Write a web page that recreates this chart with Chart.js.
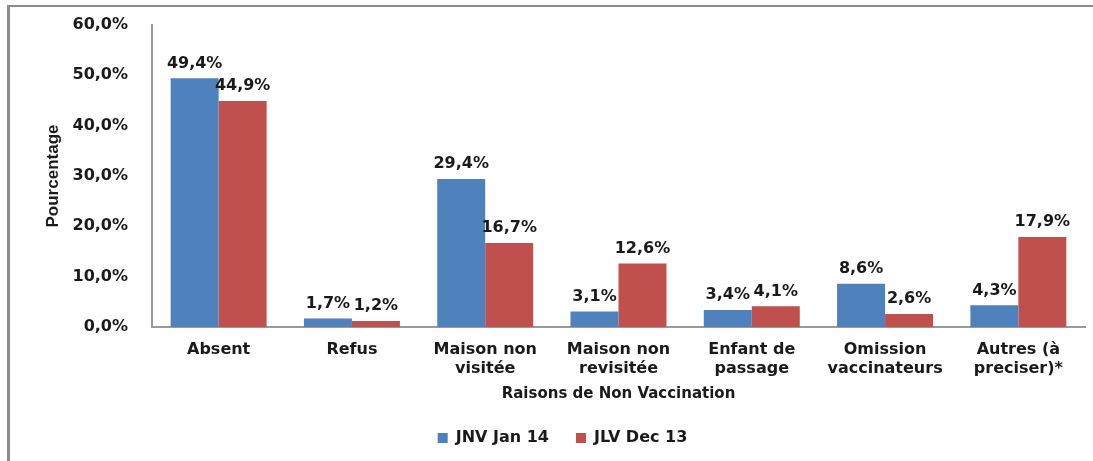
<!DOCTYPE html>
<html lang="fr">
<head>
<meta charset="UTF-8">
<title>Raisons de Non Vaccination</title>
<style>
body { margin: 0; background: #fff; }
#wrap { position: relative; width: 1093px; height: 461px; overflow: hidden; }
#frame {
  position: absolute; left: 7px; top: 5px; width: 1200px; height: 600px;
  border-top: 2px solid #8a8a8a; border-left: 3px solid #8a8a8a;
}
canvas { position: absolute; left: 0; top: 0; }
</style>
</head>
<body>
<div id="wrap">
  <div id="frame"></div>
  <canvas id="myChart" width="1093" height="461"></canvas>
</div>

<script src="https://cdn.jsdelivr.net/npm/chart.js"></script>
<script>
// donnees
const categories = [
  ['Absent'], ['Refus'], ['Maison non', 'visitée'], ['Maison non', 'revisitée'],
  ['Enfant de', 'passage'], ['Omission', 'vaccinateurs'], ['Autres (à', 'preciser)*']
];
const jnvJan14 = [49.4, 1.7, 29.4, 3.1, 3.4, 8.6, 4.3];
const jlvDec13 = [44.9, 1.2, 16.7, 12.6, 4.1, 2.6, 17.9];
const yTicks = [0, 10, 20, 30, 40, 50, 60];

const FONT = '"DejaVu Sans", Verdana, sans-serif';

function f_pct(v, dec) {
  return v.toFixed(dec).replace('.', ',') + '%';
}

// etiquettes de valeur au dessus des barres
const valueLabels = {
  id: 'valueLabels',
  afterDatasetsDraw(chart) {
    const c = chart.ctx;
    c.save();
    c.font = 'bold 16px ' + FONT;
    c.fillStyle = '#1a1a1a';
    c.textAlign = 'center';
    c.textBaseline = 'bottom';
    chart.data.datasets.forEach((ds, i) => {
      chart.getDatasetMeta(i).data.forEach((bar, j) => {
        c.fillText(f_pct(ds.data[j], 1), bar.x, bar.y - 7);
      });
    });
    c.restore();
  }
};

const ctx = document.getElementById('myChart');

let chart = new Chart(ctx, {
  type: 'bar',
  data: {
    labels: categories,
    datasets: [{
      label: 'JNV Jan 14',
      data: jnvJan14,
      backgroundColor: '#4F81BD',
      borderWidth: 0
    },
    {
      label: 'JLV Dec 13',
      data: jlvDec13,
      backgroundColor: '#C0504D',
      borderWidth: 0
    }]
  },
  plugins: [valueLabels],
  options: {
    responsive: false,
    animation: false,
    layout: { padding: { left: 40, right: 8, top: 25, bottom: 8 } },
    datasets: { bar: { categoryPercentage: 0.72, barPercentage: 1.0 } },
    plugins: {
      tooltip: { enabled: false },
      legend: {
        position: 'bottom',
        maxHeight: 50,
        labels: {
          boxWidth: 10, boxHeight: 10, padding: 27,
          color: '#1a1a1a',
          font: { family: FONT, size: 16, weight: 'bold' }
        }
      }
    },
    scales: {
      x: {
        afterFit(scale) { scale.height = 76; },
        grid: { display: false, drawTicks: false },
        border: { display: true, color: '#9a9a9a', width: 2 },
        ticks: {
          color: '#1a1a1a', padding: 14, maxRotation: 0,
          font: { family: FONT, size: 16, weight: 'bold', lineHeight: 1.15 }
        },
        title: {
          display: true,
          text: 'Raisons de Non Vaccination',
          color: '#1a1a1a',
          padding: { top: 0, bottom: 0 },
          font: { family: FONT, size: 15, weight: 'bold' }
        }
      },
      y: {
        min: 0, max: 60,
        afterFit(scale) { scale.width = 112; },
        afterBuildTicks(scale) { scale.ticks = yTicks.map(v => ({ value: v })); },
        grid: { display: false, drawTicks: true, tickLength: 21 },
        border: { display: true, color: '#9a9a9a', width: 2 },
        ticks: {
          color: '#1a1a1a', padding: 3,
          font: { family: FONT, size: 16, weight: 'bold' },
          callback: v => f_pct(v, 1)
        },
        title: {
          display: true,
          text: 'Pourcentage',
          color: '#1a1a1a',
          padding: { top: 3, bottom: 0 },
          font: { family: '"Liberation Sans Narrow", "Arial Narrow", "Liberation Sans", sans-serif', size: 17, weight: 'bold' }
        }
      }
    }
  }
});
</script>
</body>
</html>
